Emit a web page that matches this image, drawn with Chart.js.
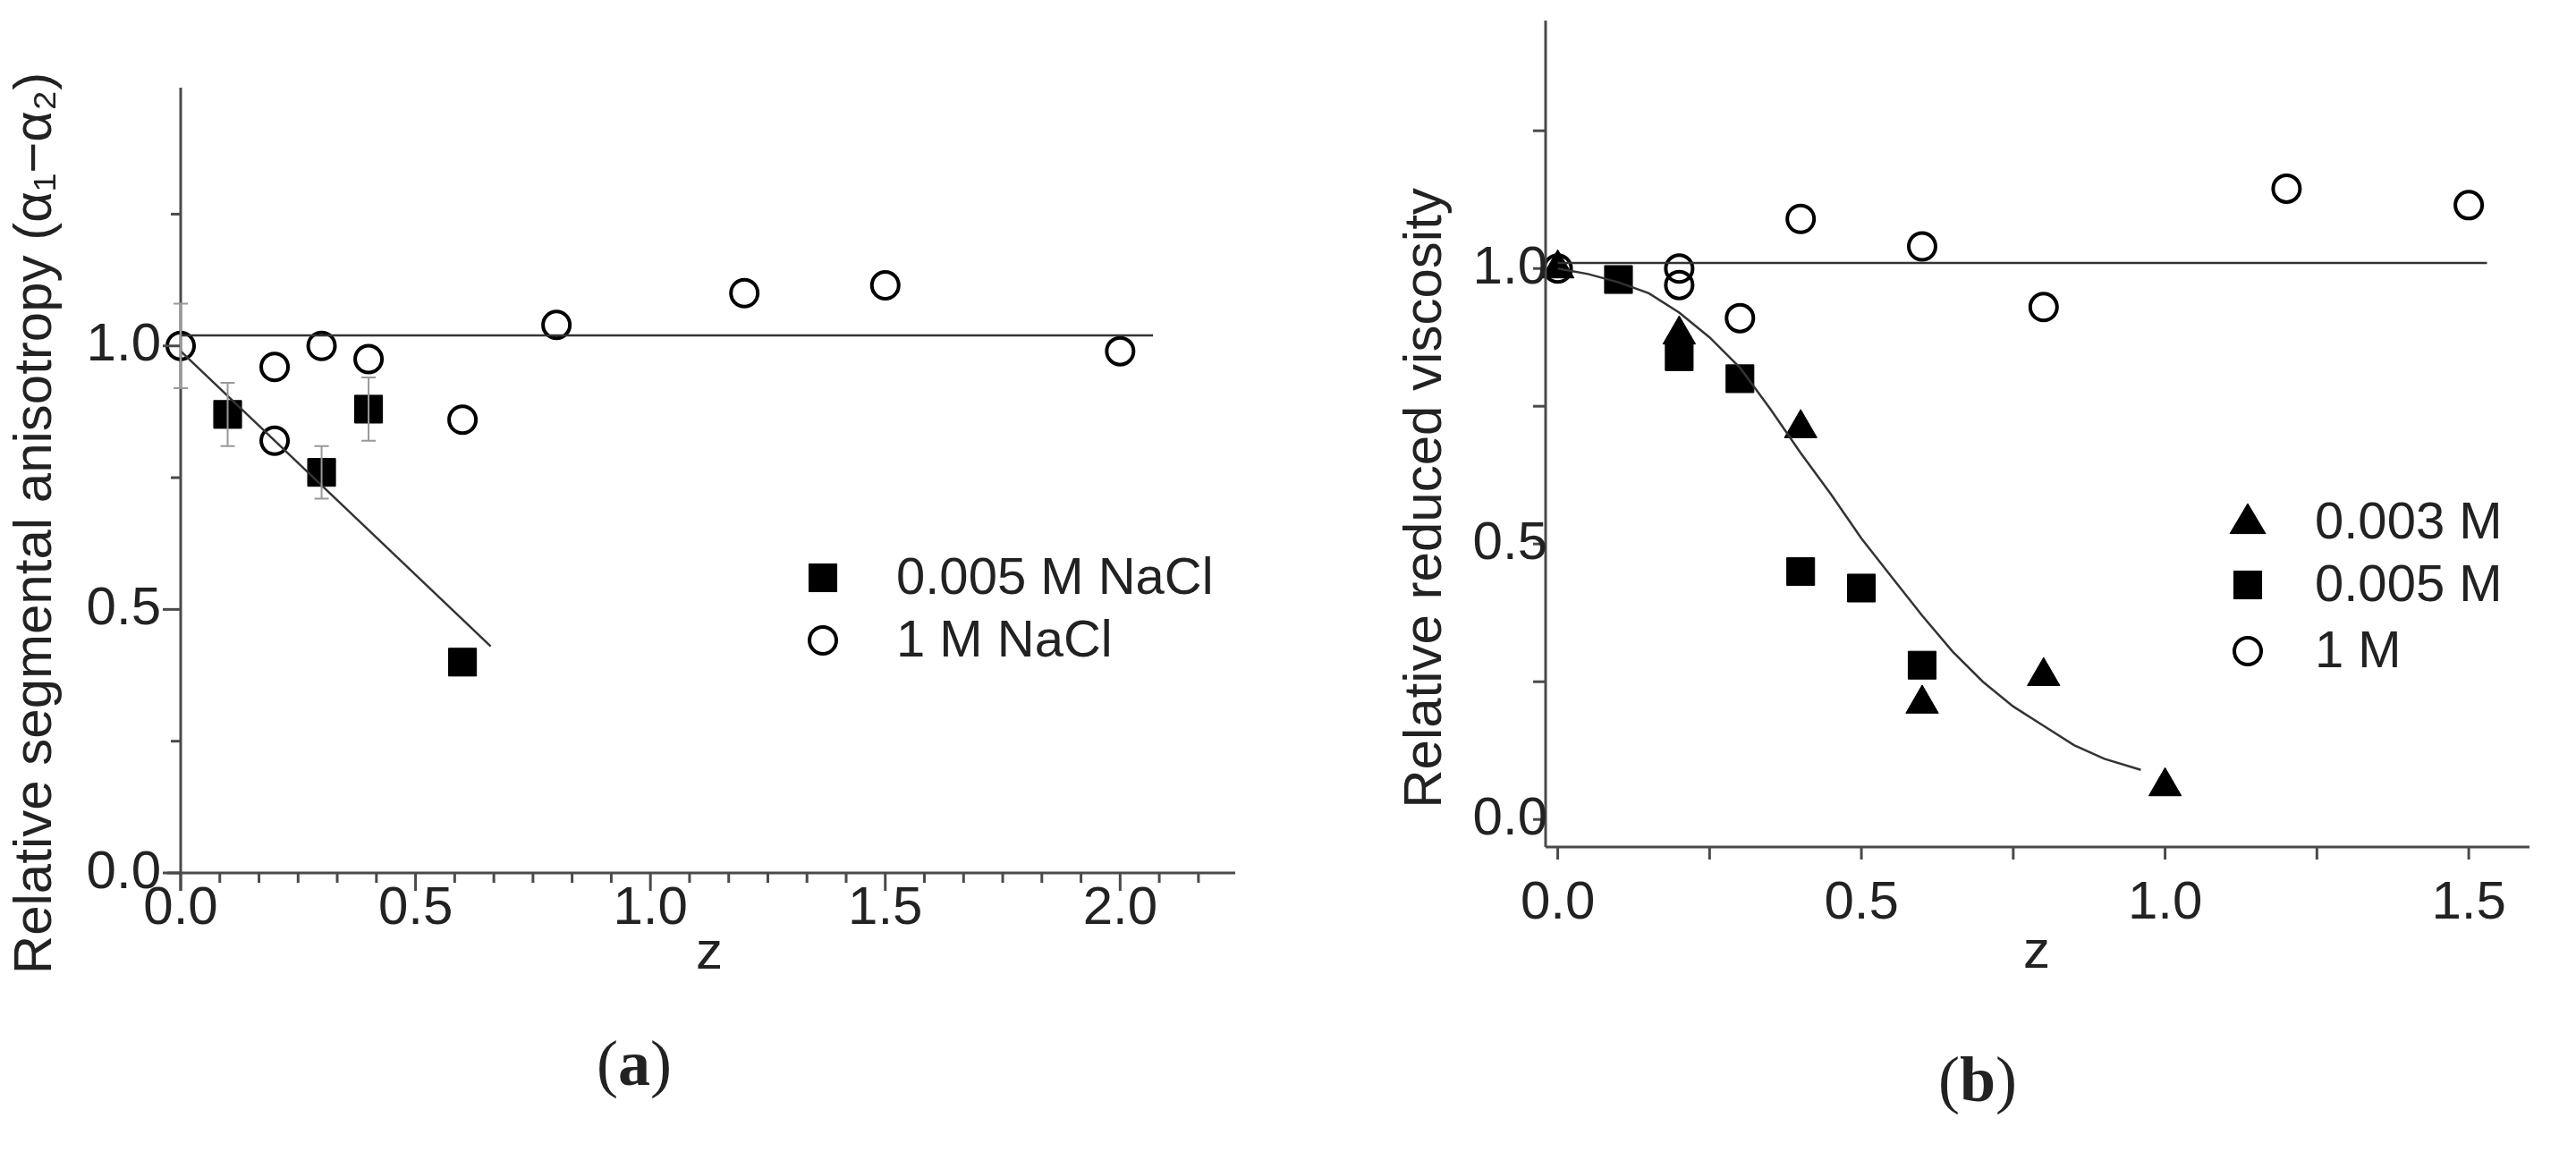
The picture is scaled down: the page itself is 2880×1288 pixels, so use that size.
<!DOCTYPE html>
<html><head><meta charset="utf-8">
<script src="https://cdn.jsdelivr.net/npm/chart.js@4"></script>
<style>body{margin:0;background:#fff;width:2880px;height:1288px;position:relative;overflow:hidden}
canvas{position:absolute;top:0}</style></head><body>
<canvas id="ca" width="1440" height="1288" style="left:0;width:1440px;height:1288px"></canvas>
<canvas id="cb" width="1440" height="1288" style="left:1440px;width:1440px;height:1288px"></canvas>
<script>
// ---- Panel (a) data ----
const aSqX=[0.1,0.3,0.4,0.6];
const aSqY=[0.87,0.76,0.88,0.40];
const aSqErr=[0.06,0.05,0.06,0];
const aCirX=[0,0.2,0.2,0.3,0.4,0.6,0.8,1.2,1.5,2.0];
const aCirY=[1.0,0.96,0.82,1.0,0.975,0.86,1.04,1.10,1.115,0.99];
const aCirErr=[0.08,0,0,0,0,0,0,0,0,0];
const aFlatX=[0,2.07], aFlatY=[1.02,1.02];
const aFitX=[0,0.66], aFitY=[0.99,0.43];
const aXTicks=[0,0.5,1.0,1.5,2.0];
const aYTicks=[0,0.5,1.0];
// ---- Panel (b) data ----
const bTriX=[0,0.2,0.4,0.6,0.8,1.0];
const bTriY=[1.0,0.88,0.71,0.21,0.26,0.06];
const bSqX=[0.1,0.2,0.3,0.4,0.5,0.6];
const bSqY=[0.98,0.84,0.80,0.45,0.42,0.28];
const bCirX=[0,0.2,0.2,0.3,0.4,0.6,0.8,1.2,1.5];
const bCirY=[1.0,1.0,0.97,0.91,1.09,1.04,0.93,1.145,1.115];
const bFlatX=[0,1.53], bFlatY=[1.01,1.01];
const bCurveX=[0,0.05,0.1,0.15,0.2,0.25,0.3,0.35,0.4,0.45,0.5,0.55,0.6,0.65,0.7,0.75,0.8,0.85,0.9,0.96];
const bCurveY=[1.0,0.99,0.975,0.955,0.92,0.875,0.82,0.745,0.665,0.59,0.51,0.44,0.37,0.305,0.25,0.205,0.17,0.135,0.11,0.09];
const bXTicks=[0,0.5,1.0,1.5];
const bYTicks=[0,0.5,1.0];

const FONT='"Liberation Sans", Arial, sans-serif';
const INK='#222', AXIS='#4a4a4a';
const pts=(xs,ys)=>xs.map((x,i)=>({x,y:ys[i]}));

function scatter(label,xs,ys,style,r,extra){
  return Object.assign({type:'scatter',label,data:pts(xs,ys),pointStyle:style,pointRadius:r,
    pointHoverRadius:r,backgroundColor:'#000',borderColor:'#000',borderWidth:1},extra||{});
}
function line(xs,ys){
  return {type:'line',label:'',data:pts(xs,ys),borderColor:'#333',borderWidth:2.5,pointRadius:0,
    fill:false,tension:0,showLine:true};
}
function mkTicks(minorStep,min,max){
  const arr=[];
  for(let v=Math.ceil(min/minorStep-1e-9)*minorStep; v<=max+1e-9; v+=minorStep){arr.push(+v.toFixed(4));}
  return arr;
}

function deco(cfg){
  return {id:'deco'+cfg.id,
    afterDatasetsDraw(chart){
      const c=chart.ctx, xs=chart.scales.x, ys=chart.scales.y, A=chart.chartArea;
      c.save();
      c.strokeStyle=AXIS; c.lineWidth=3;
      c.beginPath(); c.moveTo(A.left,A.top); c.lineTo(A.left,A.bottom+cfg.yAxisExt); c.stroke();
      c.beginPath(); c.moveTo(A.left-cfg.xAxisExt,A.bottom); c.lineTo(A.right,A.bottom); c.stroke();
      cfg.xMinor.forEach(v=>{
        const p=xs.getPixelForValue(v), maj=cfg.xMajor.some(m=>Math.abs(m-v)<1e-6);
        c.beginPath(); c.moveTo(p,A.bottom); c.lineTo(p,A.bottom+(maj?cfg.tMaj:cfg.tMin)); c.stroke();
      });
      cfg.yMinor.forEach(v=>{
        const p=ys.getPixelForValue(v), maj=cfg.yMajor.some(m=>Math.abs(m-v)<1e-6);
        c.beginPath(); c.moveTo(A.left,p); c.lineTo(A.left-(maj?cfg.tMaj:cfg.tMin),p); c.stroke();
      });
      c.strokeStyle='#999'; c.lineWidth=2;
      (cfg.errs||[]).forEach(e=>{
        e.x.forEach((x,i)=>{ if(!e.err[i])return;
          const px=xs.getPixelForValue(x), p1=ys.getPixelForValue(e.y[i]+e.err[i]), p2=ys.getPixelForValue(e.y[i]-e.err[i]);
          c.beginPath(); c.moveTo(px,p1); c.lineTo(px,p2);
          c.moveTo(px-8,p1); c.lineTo(px+8,p1); c.moveTo(px-8,p2); c.lineTo(px+8,p2); c.stroke();
        });
      });
      c.fillStyle=INK; c.font=cfg.tickFont+'px '+FONT;
      c.textAlign='center'; c.textBaseline='middle';
      cfg.xMajor.forEach(v=>c.fillText(v.toFixed(1),xs.getPixelForValue(v),cfg.xLabY));
      c.textAlign='right';
      cfg.yMajor.forEach(v=>c.fillText(v.toFixed(1),A.left-cfg.yLabGap,ys.getPixelForValue(v)));
      c.textAlign='center';
      c.font=cfg.titleFont+'px '+FONT;
      c.fillText('z',cfg.zX,cfg.zY);
      c.save(); c.translate(cfg.yTX,cfg.yTY); c.rotate(-Math.PI/2); c.fillText(cfg.yTitle,0,0); c.restore();
      c.font=cfg.legFont+'px '+FONT; c.textAlign='left';
      cfg.legend.forEach((L,i)=>{
        const y=cfg.legY[i], mx=cfg.legMX;
        c.fillStyle='#000'; c.strokeStyle='#000'; c.lineWidth=L.bw;
        c.beginPath();
        if(L.style==='rect'){const s=L.r*Math.SQRT1_2; c.rect(mx-s,y-s,2*s,2*s);}
        else if(L.style==='circle'){c.arc(mx,y,L.r,0,Math.PI*2);}
        else {c.moveTo(mx,y-L.r); c.lineTo(mx+L.r*0.95,y+L.r*0.6); c.lineTo(mx-L.r*0.95,y+L.r*0.6); c.closePath();}
        if(L.fill)c.fill(); c.stroke();
        c.fillStyle=INK; c.fillText(L.text,cfg.legTX,y+2);
      });
      // panel letter: "(" normal, letter bold, ")" normal
      const nf='72px "Liberation Serif", "DejaVu Serif", serif', bf='bold 72px "Liberation Serif", "DejaVu Serif", serif';
      c.font=nf; const wp=c.measureText('(').width; c.font=bf; const wl=c.measureText(cfg.letter).width;
      let x0=cfg.letX-(2*wp+wl)/2; c.textAlign='left';
      c.font=nf; c.fillText('(',x0,cfg.letY); c.font=bf; c.fillText(cfg.letter,x0+wp,cfg.letY);
      c.font=nf; c.fillText(')',x0+wp+wl,cfg.letY);
      c.restore();
    }};
}
function baseOpts(p){
  return {responsive:false,animation:false,events:[],clip:false,
    layout:{padding:{left:p.left,right:1440-p.right,top:p.top,bottom:1288-p.bottom}},
    plugins:{legend:{display:false},tooltip:{enabled:false}},
    scales:{
      x:{type:'linear',min:p.xmin,max:p.xmax,display:false},
      y:{type:'linear',min:p.ymin,max:p.ymax,display:false}
    }};
}

// Panel (a)
new Chart(document.getElementById('ca'),{
  data:{datasets:[
    line(aFlatX,aFlatY), line(aFitX,aFitY),
    scatter('0.005 M NaCl',aSqX,aSqY,'rect',22),
    scatter('1 M NaCl',aCirX,aCirY,'circle',15,{backgroundColor:'#fff',borderWidth:4})
  ]},
  options:baseOpts({left:202,right:1381,top:98,bottom:976,xmin:0,xmax:2.245,ymin:0,ymax:1.49}),
  plugins:[deco({id:'a',xAxisExt:15,yAxisExt:20,tMaj:20,tMin:11,
    xMinor:mkTicks(0.5/6,0,2.245),xMajor:aXTicks,
    yMinor:mkTicks(0.25,0,1.49),yMajor:aYTicks,
    errs:[{x:aSqX,y:aSqY,err:aSqErr},{x:aCirX,y:aCirY,err:aCirErr}],
    tickFont:60,xLabY:1016,yLabGap:22,titleFont:60,zX:793,zY:1066,
    yTitle:'Relative segmental anisotropy (α\u2081\u2212α\u2082)',yTX:40,yTY:585,
    legFont:58,legY:[646,716],legMX:920,legTX:1002,
    legend:[{style:'rect',r:22,bw:1,fill:true,text:'0.005 M NaCl'},{style:'circle',r:15,bw:4,fill:false,text:'1 M NaCl'}],
    letter:'a',letX:709,letY:1194})]
});

// Panel (b)
new Chart(document.getElementById('cb'),{
  data:{datasets:[
    line(bFlatX,bFlatY), line(bCurveX,bCurveY),
    scatter('0.003 M',bTriX,bTriY,'triangle',21),
    scatter('0.005 M',bSqX,bSqY,'rect',22),
    scatter('1 M',bCirX,bCirY,'circle',15,{backgroundColor:'rgba(255,255,255,0)',borderWidth:4})
  ]},
  options:baseOpts({left:288,right:1388,top:16,bottom:947,xmin:-0.02,xmax:1.6,ymin:-0.05,ymax:1.45}),
  plugins:[deco({id:'b',xAxisExt:0,yAxisExt:0,tMaj:14,tMin:14,
    xMinor:mkTicks(0.25,0,1.6),xMajor:bXTicks,
    yMinor:mkTicks(0.25,0,1.45),yMajor:bYTicks,
    errs:[],
    tickFont:60,xLabY:1010,yLabGap:-2,titleFont:60,zX:837,zY:1065,
    yTitle:'Relative reduced viscosity',yTX:154,yTY:557,
    legFont:58,legY:[584,654,728],legMX:1073,legTX:1148,
    legend:[{style:'triangle',r:21,bw:1,fill:true,text:'0.003 M'},{style:'rect',r:22,bw:1,fill:true,text:'0.005 M'},{style:'circle',r:15,bw:4,fill:false,text:'1 M'}],
    letter:'b',letX:771,letY:1212})]
});
</script></body></html>
